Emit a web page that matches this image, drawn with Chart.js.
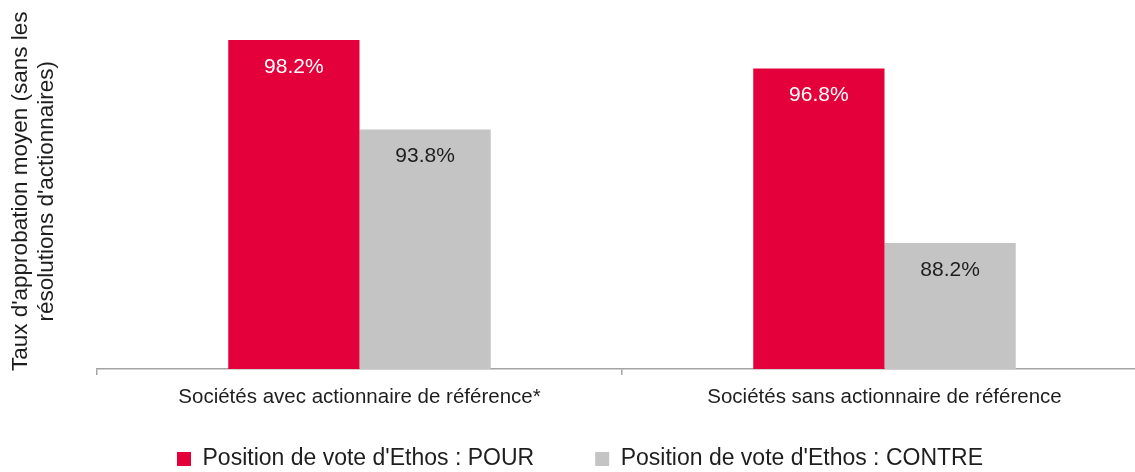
<!DOCTYPE html>
<html><head><meta charset="utf-8">
<script src="https://cdn.jsdelivr.net/npm/chart.js@4.4.1/dist/chart.umd.min.js"></script>
<style>
html,body{margin:0;padding:0;overflow:hidden;background:#fff;width:1135px;height:472px}
#wrap{position:relative;width:1160px;height:472px}
</style></head>
<body><div id="wrap"><canvas id="c"></canvas></div>
<script>
const categories = ["Sociétés avec actionnaire de référence*", "Sociétés sans actionnaire de référence"];
const seriesNames = ["Position de vote d'Ethos : POUR", "Position de vote d'Ethos : CONTRE"];
const pourValues = [98.2, 96.8];
const contreValues = [93.8, 88.2];
const yTitle = ["Taux d'approbation moyen (sans les", "résolutions d'actionnaires)"];
const yMin = 82, yMax = 100;

const FONT = "'Liberation Sans', Arial, sans-serif";
const RED = '#E4003A', GREY = '#C4C4C4', TEXT = '#1e1e1e', AXIS = '#A3A3A3';

const valueLabels = {
  id: 'valueLabels',
  afterDatasetsDraw(chart) {
    const ctx = chart.ctx;
    ctx.save();
    ctx.font = `21px ${FONT}`;
    ctx.textAlign = 'center';
    ctx.textBaseline = 'alphabetic';
    chart.data.datasets.forEach((ds, i) => {
      const meta = chart.getDatasetMeta(i);
      meta.data.forEach((bar, j) => {
        ctx.fillStyle = i === 0 ? '#ffffff' : TEXT;
        ctx.fillText(ds.data[j].toFixed(1) + '%', bar.x, bar.y + 32.5);
      });
    });
    ctx.restore();
  }
};

const LEGEND_BOX_H = 55;       // space reserved for legend in layout
const LEGEND_DRAW_TOP = 386.5; // legend drawing origin (text centre = top + padding + size/2)
const legendFix = {
  id: 'legendFix',
  beforeLayout(chart) {
    const lg = chart.legend;
    if (lg && !lg._patched) {
      const orig = lg.fit;
      lg.fit = function() { orig.call(this); this.height = LEGEND_BOX_H; };
      lg._patched = true;
    }
  },
  afterLayout(chart) {
    const lg = chart.legend;
    if (lg) {
      lg.top = LEGEND_DRAW_TOP;
      lg.bottom = chart.height;
      lg.height = lg.bottom - lg.top;
    }
    const ys = chart.scales.y;
    if (ys && !ys._titlePatched) {
      const o = ys.drawTitle;
      ys.drawTitle = function() {
        this.ctx.save();
        this.ctx.translate(0, 5);
        o.call(this);
        this.ctx.restore();
      };
      ys._titlePatched = true;
    }
  }
};

new Chart(document.getElementById('c'), {
  type: 'bar',
  data: {
    labels: categories,
    datasets: [
      { label: seriesNames[0], data: pourValues, backgroundColor: RED, borderColor: RED, borderWidth: 0,
        categoryPercentage: 0.5, barPercentage: 1.0 },
      { label: seriesNames[1], data: contreValues, backgroundColor: GREY, borderColor: GREY, borderWidth: 0,
        categoryPercentage: 0.5, barPercentage: 1.0 }
    ]
  },
  options: {
    responsive: true,
    maintainAspectRatio: false,
    animation: false,
    layout: { padding: { top: 3.5, left: 0, right: 0, bottom: 0 } },
    plugins: {
      tooltip: { enabled: false },
      legend: {
        position: 'bottom',
        labels: {
          boxWidth: 14, boxHeight: 14, padding: 61, color: TEXT,
          font: { family: FONT, size: 23 }
        }
      }
    },
    scales: {
      x: {
        grid: { display: true, drawOnChartArea: false, drawTicks: true, tickLength: 6, color: AXIS, lineWidth: 1.5, offset: true },
        border: { display: true, color: AXIS, width: 1.5 },
        ticks: { color: TEXT, font: { family: FONT, size: 20.5 }, padding: 10, maxRotation: 0, autoSkip: false },
        afterFit(s) { s.height = 472 - LEGEND_BOX_H - 369; }
      },
      y: {
        min: yMin, max: yMax,
        grid: { display: false }, border: { display: false },
        ticks: { display: false },
        title: { display: true, text: yTitle, color: TEXT,
                 font: { family: FONT, size: 22.5, lineHeight: 1.15 }, padding: { top: 8, bottom: 0 } },
        afterFit(s) { s.width = 97; }
      },
      y2: {
        position: 'right', display: true, min: 0, max: 1,
        grid: { display: false }, border: { display: false }, ticks: { display: false },
        afterFit(s) { s.width = 13; }
      }
    }
  },
  plugins: [valueLabels, legendFix]
});
</script>
</body></html>
